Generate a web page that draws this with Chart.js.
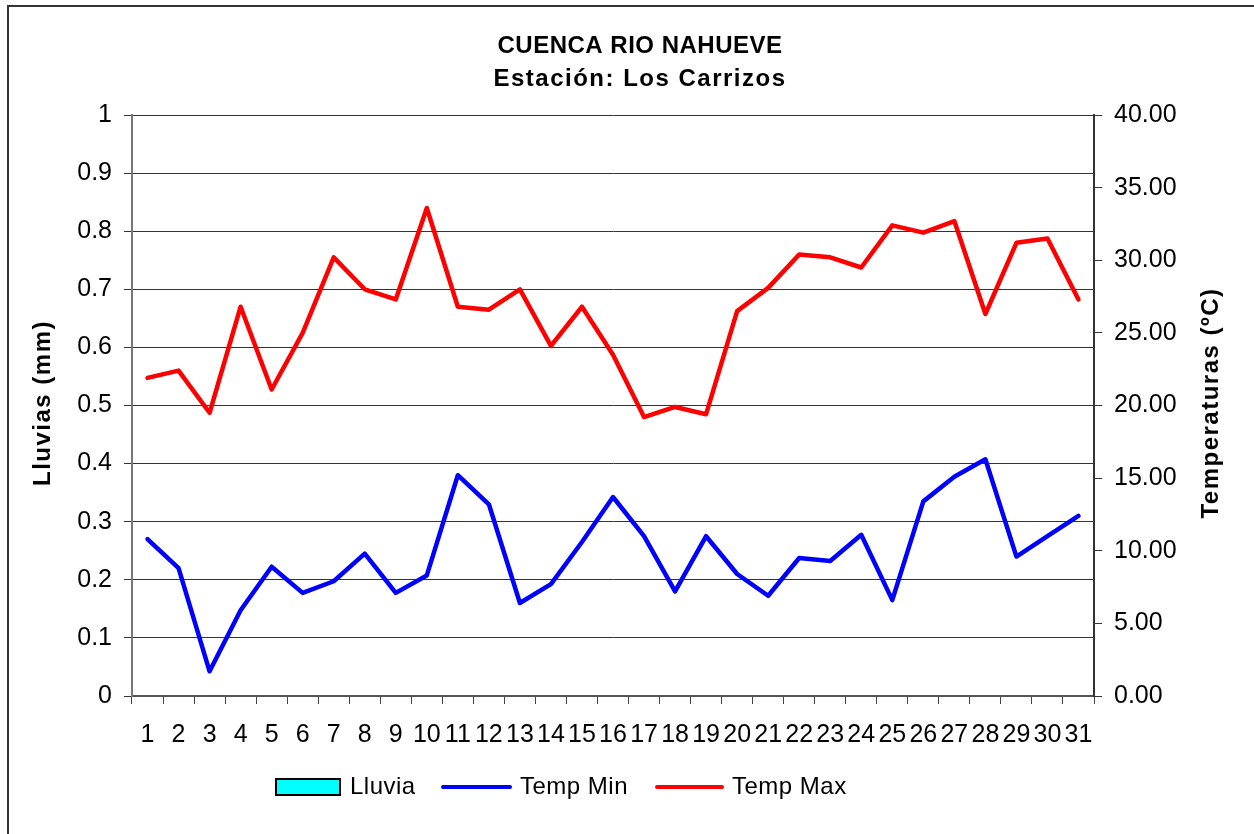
<!DOCTYPE html>
<html>
<head>
<meta charset="utf-8">
<script src="https://cdn.jsdelivr.net/npm/chart.js@4/dist/chart.umd.min.js"></script>
<style>
  html, body { margin: 0; padding: 0; background: #fff; }
  #c { display: block; }
</style>
</head>
<body>
<canvas id="c" width="1254" height="834"></canvas>
<script>
// ---- Data ----
const days = ['1','2','3','4','5','6','7','8','9','10','11','12','13','14','15','16','17','18','19','20','21','22','23','24','25','26','27','28','29','30','31'];
const lluvia = [0,0,0,0,0,0,0,0,0,0,0,0,0,0,0,0,0,0,0,0,0,0,0,0,0,0,0,0,0,0,0];
const tempMin = [10.8, 8.8, 1.7, 5.9, 8.9, 7.1, 7.9, 9.8, 7.1, 8.3, 15.2, 13.2, 6.4, 7.7, 10.6, 13.7, 11.0, 7.2, 11.0, 8.4, 6.9, 9.5, 9.3, 11.1, 6.6, 13.4, 15.1, 16.3, 9.6, 11.0, 12.4];
const tempMax = [21.9, 22.4, 19.5, 26.8, 21.1, 25.0, 30.2, 28.0, 27.3, 33.6, 26.8, 26.6, 28.0, 24.1, 26.8, 23.5, 19.2, 19.9, 19.4, 26.5, 28.1, 30.4, 30.2, 29.5, 32.4, 31.9, 32.7, 26.3, 31.2, 31.5, 27.3];
const titleLines = ['CUENCA RIO NAHUEVE', 'Estación: Los Carrizos'];
const leftAxisTitle = 'Lluvias (mm)';
const rightAxisTitle = 'Temperaturas (ºC)';
const seriesNames = ['Lluvia', 'Temp Min', 'Temp Max'];

const FONT = "'Liberation Sans', Arial, sans-serif";

const decorPlugin = {
  id: 'decor',
  afterDraw(chart) {
    const ctx = chart.ctx;
    ctx.save();
    // outer border
    ctx.strokeStyle = '#333';
    ctx.lineWidth = 2;
    ctx.beginPath();
    ctx.moveTo(8, 834);
    ctx.lineTo(8, 6);
    ctx.lineTo(1254, 6);
    ctx.stroke();

    ctx.fillStyle = '#000';
    ctx.textAlign = 'center';
    ctx.textBaseline = 'middle';
    // title
    ctx.font = 'bold 24px ' + FONT;
    ctx.letterSpacing = '0.5px';
    ctx.fillText(titleLines[0], 640, 46);
    ctx.letterSpacing = '1.5px';
    ctx.fillText(titleLines[1], 640, 79);

    // axis titles
    ctx.font = 'bold 24px ' + FONT;
    ctx.letterSpacing = '1.5px';
    ctx.save();
    ctx.translate(43, 403);
    ctx.rotate(-Math.PI / 2);
    ctx.fillText(leftAxisTitle, 0, 0);
    ctx.restore();
    ctx.save();
    ctx.translate(1211, 403);
    ctx.rotate(-Math.PI / 2);
    ctx.fillText(rightAxisTitle, 0, 0);
    ctx.restore();

    // legend
    const ly = 787;
    ctx.letterSpacing = '0.5px';
    ctx.font = '24px ' + FONT;
    ctx.textAlign = 'left';
    ctx.fillStyle = '#00FFFF';
    ctx.fillRect(276, 779, 64, 16);
    ctx.strokeStyle = '#000';
    ctx.lineWidth = 2;
    ctx.strokeRect(276, 779, 64, 16);
    ctx.fillStyle = '#000';
    ctx.fillText(seriesNames[0], 350, ly);

    ctx.lineCap = 'round';
    ctx.lineWidth = 4;
    ctx.strokeStyle = '#0000FF';
    ctx.beginPath(); ctx.moveTo(443, ly); ctx.lineTo(510, ly); ctx.stroke();
    ctx.fillText(seriesNames[1], 520, ly);
    ctx.strokeStyle = '#FF0000';
    ctx.beginPath(); ctx.moveTo(657, ly); ctx.lineTo(722, ly); ctx.stroke();
    ctx.fillText(seriesNames[2], 732, ly);
    ctx.restore();
  }
};

new Chart(document.getElementById('c'), {
  type: 'bar',
  data: {
    labels: days,
    datasets: [
      { type: 'bar', label: seriesNames[0], data: lluvia, yAxisID: 'y',
        backgroundColor: '#00FFFF', borderColor: '#000', borderWidth: 0, order: 3 },
      { type: 'line', label: seriesNames[1], data: tempMin, yAxisID: 'y1',
        borderColor: '#0000FF', borderWidth: 4.5, pointRadius: 0, tension: 0, fill: false, order: 2,
        borderJoinStyle: 'round', borderCapStyle: 'round' },
      { type: 'line', label: seriesNames[2], data: tempMax, yAxisID: 'y1',
        borderColor: '#FF0000', borderWidth: 4.5, pointRadius: 0, tension: 0, fill: false, order: 1,
        borderJoinStyle: 'round', borderCapStyle: 'round' }
    ]
  },
  options: {
    responsive: false,
    animation: false,
    layout: { padding: { top: 115, left: 0, right: 0, bottom: 0 } },
    plugins: { legend: { display: false }, title: { display: false }, tooltip: { enabled: false } },
    scales: {
      x: {
        offset: true,
        grid: { offset: true, drawOnChartArea: false, drawTicks: true, tickLength: 8, color: '#444', lineWidth: 1 },
        border: { display: true, color: '#555', width: 2 },
        ticks: { autoSkip: false, maxRotation: 0, minRotation: 0, padding: 16, color: '#000',
                 font: { family: FONT, size: 25 } },
        afterFit(scale) { scale.height = 138; }
      },
      y: {
        position: 'left',
        min: 0, max: 1,
        grid: { color: '#333', lineWidth: 1, tickLength: 8, tickColor: '#333' },
        border: { display: true, color: '#777', width: 2 },
        ticks: { stepSize: 0.1, padding: 12, color: '#000', font: { family: FONT, size: 25 },
                 callback: (v) => String(Math.round(v * 10) / 10) },
        afterFit(scale) { scale.width = 132; }
      },
      y1: {
        position: 'right',
        min: 0, max: 40,
        grid: { drawOnChartArea: false, tickLength: 8, tickColor: '#333' },
        border: { display: true, color: '#333', width: 2 },
        ticks: { stepSize: 5, padding: 12, color: '#000', font: { family: FONT, size: 25 },
                 callback: (v) => Number(v).toFixed(2) },
        afterFit(scale) { scale.width = 160; }
      }
    }
  },
  plugins: [decorPlugin]
});
</script>
</body>
</html>
